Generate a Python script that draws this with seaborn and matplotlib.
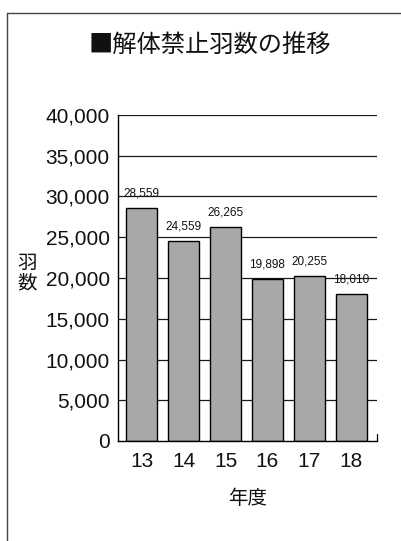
import matplotlib
matplotlib.use("Agg")
import matplotlib.pyplot as plt
from matplotlib.lines import Line2D
from matplotlib import font_manager
import seaborn as sns
import pandas as pd

# Data
years = ["13", "14", "15", "16", "17", "18"]
counts = [28559, 24559, 26265, 19898, 20255, 18010]
y_ticks = [0, 5000, 10000, 15000, 20000, 25000, 30000, 35000, 40000]

sns.set_theme(style="white")
installed = {f.name for f in font_manager.fontManager.ttflist}
num_font = "Liberation Sans Narrow" if "Liberation Sans Narrow" in installed else "Liberation Sans"
plt.rcParams["font.family"] = [num_font, "Noto Sans CJK JP", "DejaVu Sans"]
cjk = ["Noto Sans CJK JP", "DejaVu Sans"]

df = pd.DataFrame({"year": years, "count": counts})

fig = plt.figure(figsize=(4.01, 5.41), dpi=100)
ax = fig.add_axes([118 / 401, 1 - 441 / 541, (377 - 118) / 401, (441 - 115) / 541])

ax.set_axisbelow(True)
for v in y_ticks[1:]:
    ax.axhline(v, color="#1a1a1a", lw=0.9, zorder=0)

sns.barplot(data=df, x="year", y="count", order=years, color="#a8a8a8",
            edgecolor="black", linewidth=1.0, width=0.74, saturation=1,
            ax=ax, zorder=2)

for i, c in enumerate(counts):
    ax.annotate(f"{c:,}", (i, c), xytext=(0, 6), textcoords="offset points",
                ha="center", va="bottom", fontsize=8.5, color="#111111")

ax.set_xlim(-0.57, 5.62)
ax.set_ylim(0, 40000)
ax.set_yticks(y_ticks)
ax.set_yticklabels([f"{v:,}" for v in y_ticks], fontsize=15, color="#111111")
ax.set_xticks(range(len(years)))
ax.set_xticklabels(years, fontsize=15, color="#111111")
ax.tick_params(axis="y", length=0, pad=6)
ax.tick_params(axis="x", length=0, pad=8)
ax.set_xlabel("")
ax.set_ylabel("")

for side in ["top", "right"]:
    ax.spines[side].set_visible(False)
for side in ["left", "bottom"]:
    ax.spines[side].set_color("black")
    ax.spines[side].set_linewidth(1.0)

# small end tick at the right of the baseline
ax.plot([5.62, 5.62], [0, 800], color="black", lw=0.9, clip_on=False)

fig.text(0.5 * (87 + 333) / 401, 1 - 45 / 541, "■解体禁止羽数の推移",
         ha="center", va="center", fontsize=17.5, family=cjk, color="#111111")
fig.text(27 / 401, 1 - 273 / 541, "羽\n数", ha="center", va="center",
         fontsize=14, family=cjk, linespacing=0.9, color="#111111")
fig.text(248 / 401, 1 - 498 / 541, "年度", ha="center", va="center",
         fontsize=14, family=cjk, color="#111111")

# outer frame (top and left edges)
fig.add_artist(Line2D([7 / 401, 1.0], [1 - 13 / 541, 1 - 13 / 541],
                      transform=fig.transFigure, color="#444444", lw=1.0))
fig.add_artist(Line2D([7 / 401, 7 / 401], [0.0, 1 - 13 / 541],
                      transform=fig.transFigure, color="#444444", lw=1.0))

fig.savefig("out.png", dpi=100)
